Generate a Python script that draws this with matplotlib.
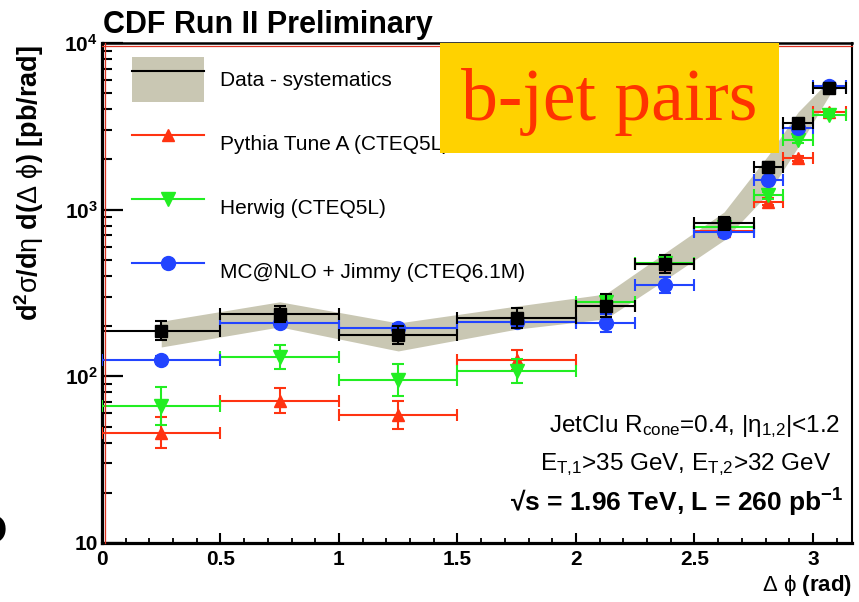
import matplotlib
matplotlib.use("Agg")
import matplotlib.pyplot as plt
import numpy as np
from matplotlib.lines import Line2D
from matplotlib.patches import Patch, Rectangle
from matplotlib.ticker import MultipleLocator, LogLocator, NullFormatter
from matplotlib.transforms import offset_copy

plt.rcParams['font.family'] = ['Liberation Sans', 'DejaVu Sans']
plt.rcParams['mathtext.fontset'] = 'custom'
plt.rcParams['mathtext.rm'] = 'Liberation Sans'
plt.rcParams['mathtext.it'] = 'Liberation Sans:italic'
plt.rcParams['mathtext.bf'] = 'Liberation Sans:bold'

# binning in delta phi (rad)
bin_lo = [0.0, 0.5, 1.0, 1.5, 2.0, 2.25, 2.5, 2.75, 2.875, 3.0]
bin_hi = [0.5, 1.0, 1.5, 2.0, 2.25, 2.5, 2.75, 2.875, 3.0, 3.1416]
bin_center = [0.25, 0.75, 1.25, 1.75, 2.125, 2.375, 2.625, 2.8125, 2.9375, 3.07]

# data and systematics band (pb/rad)
data = [188, 236, 177, 223, 265, 472, 828, 1810, 3300, 5350]
data_err = [0.14, 0.12, 0.14, 0.15, 0.17, 0.14, 0.09, 0.07, 0.06, 0.05]
syst_lo = [150, 198, 142, 192, 221, 378, 657, 1259, 2377, 4875]
syst_hi = [214, 280, 209, 264, 312, 550, 968, 2128, 3855, 5998]

# MC predictions
pythia = [46, 71.5, 58.6, 125, 265, 470, 745, 1115, 2030, 3870]
pythia_err = [0.24, 0.19, 0.21, 0.15, 0.10, 0.08, 0.05, 0.05, 0.04, 0.03]
herwig = [66.4, 130, 95, 107, 280, 480, 790, 1224, 2620, 3700]
herwig_err = [0.30, 0.18, 0.25, 0.18, 0.10, 0.08, 0.05, 0.05, 0.04, 0.03]
mcnlo = [125, 208, 194, 213, 208, 353, 738, 1507, 3077, 5506]
mcnlo_err = [0.06, 0.05, 0.06, 0.05, 0.13, 0.12, 0.05, 0.04, 0.03, 0.03]

labels = ["Data - systematics", "Pythia Tune A (CTEQ5L)", "Herwig (CTEQ5L)",
          "MC@NLO + Jimmy (CTEQ6.1M)"]

band_color = "#c9c7b3"
red = "#ff3311"
green = "#22ee22"
blue = "#2244ff"

fig = plt.figure(figsize=(8.59, 6.02), dpi=100)
ax = fig.add_axes([102/859, 59/602, 750/859, 500/602])

x = np.array(bin_center)
xerr = [x - np.array(bin_lo), np.array(bin_hi) - x]


def yerr_of(vals, rel):
    v = np.array(vals, dtype=float)
    r = np.array(rel)
    return [v - v / (1 + r), v * r]


ax.fill_between(x, syst_lo, syst_hi, color=band_color, lw=0, zorder=1)

series = [
    (pythia, pythia_err, red, '^', 9),
    (herwig, herwig_err, green, 'v', 10),
    (mcnlo, mcnlo_err, blue, 'o', 10),
    (data, data_err, 'black', 's', 8),
]
for i, (vals, rel, col, mk, ms) in enumerate(series):
    ax.errorbar(x, vals, xerr=xerr, yerr=yerr_of(vals, rel), fmt=mk, color=col,
                ms=ms, elinewidth=1.5, capsize=4, capthick=1.5, zorder=3 + i)

ax.set_yscale('log')
ax.set_xlim(0, 3.165)
ax.set_ylim(10, 1e4)

ax.set_xticks([0, 0.5, 1, 1.5, 2, 2.5, 3], ["0", "0.5", "1", "1.5", "2", "2.5", "3"])
ax.xaxis.set_minor_locator(MultipleLocator(0.1))
ax.set_yticks([10, 100, 1000, 10000],
              ["10", r"10$^{\mathregular{2}}$", r"10$^{\mathregular{3}}$", r"10$^{\mathregular{4}}$"])
ax.yaxis.set_minor_locator(LogLocator(base=10, subs=np.arange(2, 10)))
ax.yaxis.set_minor_formatter(NullFormatter())
for lab in ax.get_xticklabels() + ax.get_yticklabels():
    lab.set_fontweight('bold')
    lab.set_fontsize(15)

ax.tick_params(axis='x', which='major', direction='in', length=7, width=1.5, pad=5, top=False)
ax.tick_params(axis='x', which='minor', direction='in', length=3.5, width=1.3, top=False)
ax.tick_params(axis='y', which='major', direction='in', length=15, width=1.6, pad=3, right=False)
ax.tick_params(axis='y', which='minor', direction='in', length=7, width=1.5, right=False)

for s in ['left', 'bottom']:
    ax.spines[s].set_linewidth(2.3)
ax.spines['top'].set_linewidth(1.8)
ax.spines['right'].set_linewidth(1.5)

# thin red frame lines inside the left and top axes
tr_left = offset_copy(ax.transAxes, fig=fig, x=2.5, y=0, units='dots')
ax.plot([0, 0], [0, 1], transform=tr_left, color="#dd3322", lw=0.9, clip_on=False, zorder=10)
tr_top = offset_copy(ax.transAxes, fig=fig, x=0, y=-2.5, units='dots')
ax.plot([0, 1], [1, 1], transform=tr_top, color="#dd3322", lw=0.9, clip_on=False, zorder=10)

# legend
h_data = (Patch(facecolor=band_color, edgecolor='none'), Line2D([], [], color='black', lw=1.5))
h_py = Line2D([], [], color=red, marker='^', ms=9, lw=1.5)
h_hw = Line2D([], [], color=green, marker='v', ms=10, lw=1.5)
h_nlo = Line2D([], [], color=blue, marker='o', ms=10, lw=1.5)
ax.legend([h_data, h_py, h_hw, h_nlo], labels, loc='upper left',
          bbox_to_anchor=(0.04, 0.972), frameon=False, fontsize=15,
          handlelength=3.46, handleheight=2.95, labelspacing=0.91,
          handletextpad=0.74, borderpad=0, borderaxespad=0, numpoints=1)

# labels
fig.text(103/859, 1 - 33/602, "CDF Run II Preliminary", fontsize=22,
         fontweight='bold', ha='left', va='baseline')
fig.text(29/859, 1 - 183/602,
         r"d$^{\mathregular{2}}\mathrm{\sigma}$/d$\mathrm{\eta}$ d($\mathrm{\Delta\ \phi}$) [pb/rad]",
         rotation=90, fontsize=19.5, fontweight='bold', ha='center', va='center')
fig.text(852/859, 1 - 585/602, r"$\mathrm{\Delta\ \phi}$ (rad)", fontsize=16,
         fontweight='bold', ha='right', va='center')

ax.text(0.984, 1 - (432 - 43) / 500,
        r"JetClu R$_{\mathrm{cone}}$=0.4, |$\mathrm{\eta}_{\mathrm{1{,}2}}$|<1.2",
        transform=ax.transAxes, fontsize=17.5, ha='right', va='baseline')
ax.text(0.973, 1 - (470 - 43) / 500, r"E$_{\mathrm{T{,}1}}$>35 GeV, E$_{\mathrm{T{,}2}}$>32 GeV",
        transform=ax.transAxes, fontsize=17.5, ha='right', va='baseline')
ax.text(0.988, 1 - (512 - 43) / 500, "√s = 1.96 TeV, L = 260 pb$^{\\mathbf{-1}}$",
        transform=ax.transAxes, fontsize=19, fontweight='bold', ha='right', va='baseline')

# stray glyph at left edge
fig.text(7/859, 1 - 532/602, "O", fontsize=29, fontweight='bold', ha='right', va='center')

# yellow label box
fig.add_artist(Rectangle((440/859, 1 - 153/602), 339/859, 110/602,
                         transform=fig.transFigure, facecolor="#ffd200",
                         edgecolor='none', zorder=20))
fig.text(609/859, 1 - 120/602, "b-jet pairs", fontsize=53, color="#ff3300",
         family='Liberation Serif', ha='center', va='baseline', zorder=21)

fig.savefig("out.png", dpi=100)
